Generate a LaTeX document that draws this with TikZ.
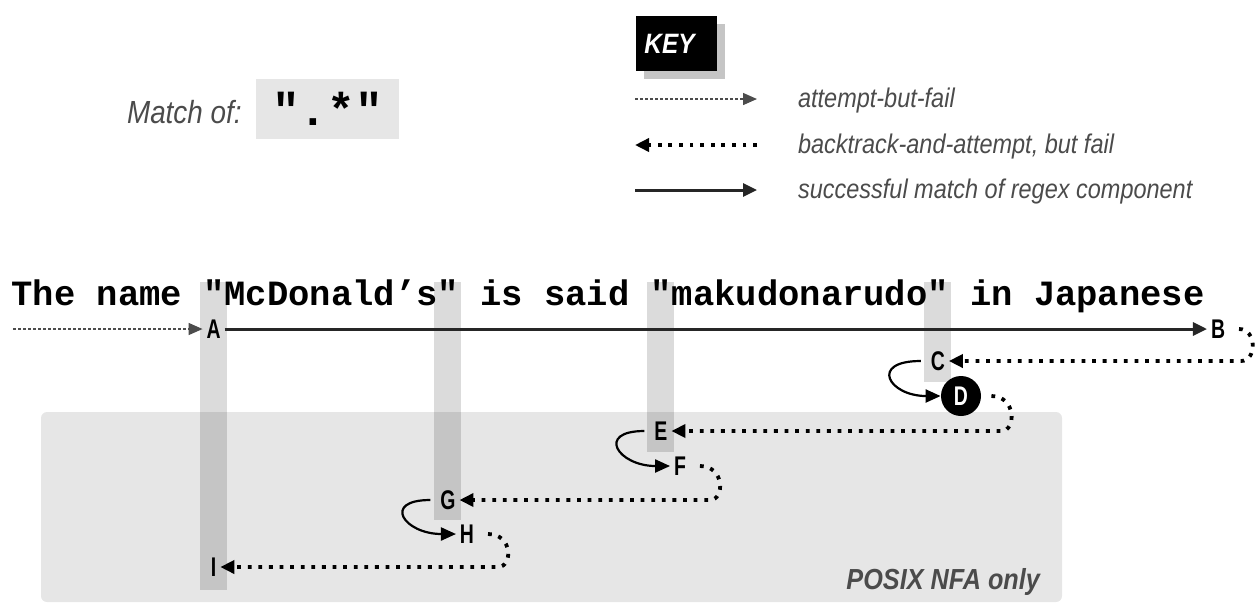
\documentclass[tikz,border=0pt]{standalone}
\usepackage{fontspec}
\usetikzlibrary{arrows.meta,shadows,calc}
\newfontfamily\condfont{Liberation Sans}[FakeStretch=0.87]
\newfontfamily\lblfont{Liberation Sans}[FakeStretch=0.72]
\newfontfamily\codefont{Liberation Mono}
\definecolor{boxgray}{RGB}{230,230,230}
\definecolor{textgray}{RGB}{75,75,75}

\tikzset{
  failarrow/.style={draw=black!70, line width=0.7pt, dash pattern=on 1.5pt off 1pt, -{Triangle[length=7pt,width=6pt]}},
  backarrow/.style={draw=black, line width=1.9pt, dash pattern=on 1.9pt off 3.4pt, -{Triangle[length=7pt,width=6.5pt]}},
  matcharrow/.style={draw=black!85, line width=1.5pt, -{Triangle[length=7pt,width=6.5pt]}},
  looparrow/.style={draw=black, line width=1.1pt, -{Triangle[length=7.5pt,width=6.5pt]}},
  lbl/.style={inner sep=2pt, outer sep=0pt, font=\lblfont\bfseries\fontsize{13.5}{13.5}\selectfont},
  keytext/.style={anchor=base west, text=textgray, font=\condfont\itshape\fontsize{13.5}{14}\selectfont},
  hibar/.style={fill=black, fill opacity=0.14},
}

\begin{document}
\begin{tikzpicture}[x=0.5pt,y=-0.5pt]
  \useasboundingbox (0,0) rectangle (1257,602);

  % POSIX NFA region
  \fill[boxgray, rounded corners=3pt] (41,412) rectangle (1062,602);
  \node[anchor=base east, text=textgray, font=\condfont\bfseries\itshape\fontsize{14.5}{15}\selectfont] (posix) at (1047,589) {POSIX NFA only};

  % Highlighted quote characters
  \foreach \cx/\cy in {213.6/590, 447.9/520, 660.9/452, 937.8/382}
    \fill[hibar] (\cx-13.5,282) rectangle (\cx+13.5,\cy);

  % Match of
  \node[anchor=base west, text=textgray, font=\condfont\itshape\fontsize{16}{16}\selectfont] (matchlbl) at (120,123) {Match of:};
  \node[fill=boxgray, minimum width=71.5pt, minimum height=30pt, inner sep=0pt] (regexbox) at (327.5,109) {};
  \node[anchor=base, font=\codefont\bfseries\fontsize{23}{23}\selectfont] (regex) at (327.5,125) {".*"};

  % Key
  \node[fill=black, text=white, minimum width=40.5pt, minimum height=27.5pt, inner sep=0pt,
        drop shadow={shadow xshift=4pt, shadow yshift=-4pt, fill=black!45},
        font=\condfont\bfseries\itshape\fontsize{14}{14}\selectfont] (key) at (676.5,43.5) {KEY\hspace*{7pt}};
  \coordinate (k1a) at (635,99);  \coordinate (k1b) at (757,99);
  \coordinate (k2a) at (635,145); \coordinate (k2b) at (757,145);
  \coordinate (k3a) at (635,190); \coordinate (k3b) at (757,190);
  \draw[failarrow] (k1a) -- (k1b);
  \draw[backarrow] (k2b) -- (k2a);
  \draw[matcharrow] (k3a) -- (k3b);
  \node[keytext] (k1txt) at (791,107) {attempt-but-fail};
  \node[keytext] (k2txt) at (791,153) {backtrack-and-attempt, but fail};
  \node[keytext] (k3txt) at (791,198) {successful match of regex component};

  % Subject string
  \node[anchor=base west, inner sep=0pt, font=\codefont\bfseries\fontsize{17.75}{18}\selectfont] (subject) at (11.2,305) {The name "McDonald’s" is said "makudonarudo" in Japanese};

  % Match positions
  \node[lbl] (A) at (213.6,329) {A};
  \node[lbl] (B) at (1218,329) {B};
  \node[lbl] (C) at (937.8,361) {C};
  \node[circle, fill=black, text=white, minimum size=20pt, inner sep=0pt,
        font=\lblfont\bfseries\fontsize{13.5}{13.5}\selectfont] (D) at (961,396) {D};
  \node[lbl] (E) at (660.9,431) {E};
  \node[lbl] (F) at (680,466) {F};
  \node[lbl] (G) at (447.9,500) {G};
  \node[lbl] (H) at (467,534) {H};
  \node[lbl] (I) at (213.6,567) {I};

  % Connectors
  \coordinate (start) at (13,329);
  \draw[failarrow] (start) -- (A);
  \draw[matcharrow] (A) -- (B);
  \draw[backarrow, shorten <=5pt] (B.east) .. controls +(28,0) and +(16,0) .. ([xshift=6pt]B.east |- C.east) -- (C.east);
  \draw[looparrow, shorten <=3pt] (C.west) .. controls +(-58,0) and +(-52,0) .. (D.west);
  \draw[backarrow, shorten <=5pt] (D.east) .. controls +(35,0) and +(15,0) .. ([xshift=10pt]D.east |- E.east) -- (E.east);
  \draw[looparrow, shorten <=3pt] (E.west) .. controls +(-55,0) and +(-52,0) .. (F.west);
  \draw[backarrow, shorten <=5pt] (F.east) .. controls +(35,0) and +(15,0) .. ([xshift=10pt]F.east |- G.east) -- (G.east);
  \draw[looparrow, shorten <=3pt] (G.west) .. controls +(-55,0) and +(-52,0) .. (H.west);
  \draw[backarrow, shorten <=5pt] (H.east) .. controls +(35,0) and +(15,0) .. ([xshift=10pt]H.east |- I.east) -- (I.east);
\end{tikzpicture}
\end{document}
